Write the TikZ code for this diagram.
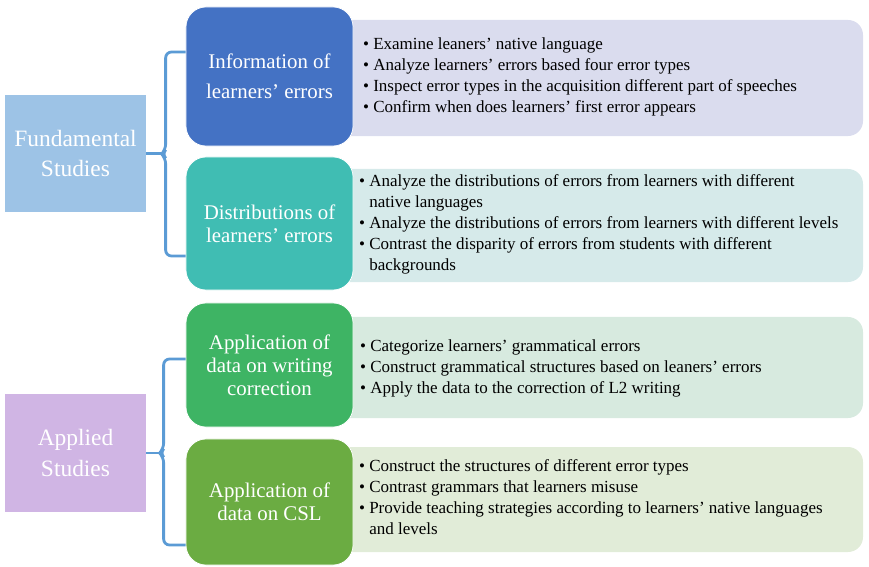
\documentclass[tikz,border=0pt]{standalone}
\usepackage{fontspec}
\setmainfont{Liberation Serif}
\usetikzlibrary{calc}

\definecolor{fundblue}{HTML}{9DC3E6}
\definecolor{applpurple}{HTML}{D0B5E4}
\definecolor{infoblue}{HTML}{4472C4}
\definecolor{distteal}{HTML}{40BDB3}
\definecolor{writegreen}{HTML}{3EB464}
\definecolor{cslgreen}{HTML}{6BAC42}
\definecolor{infopanel}{HTML}{DADCEE}
\definecolor{distpanel}{HTML}{D6EAEA}
\definecolor{writepanel}{HTML}{D7EADF}
\definecolor{cslpanel}{HTML}{E1ECD8}
\definecolor{braceblue}{HTML}{5B9BD5}

\tikzset{
  topic/.style={fill=#1, text=white, minimum width=4.23cm, minimum height=3.52cm,
    align=center, font=\fontsize{20}{26}\selectfont},
  area/.style={fill=#1, draw=white, line width=0.6pt, rounded corners=0.6cm,
    minimum width=5.01cm, text=white, align=center, font=\fontsize{17.8}{19.5}\selectfont},
  panel/.style={fill=#1, rounded corners=0.45cm, minimum width=15.99cm},
  list/.style={anchor=west, inner sep=0pt, font=\fontsize{14.5}{17.9}\selectfont},
  brace/.style={draw=braceblue, line width=2.4pt, rounded corners=5pt},
}

% bullet list with hanging lines
\newcommand*{\Bullets}[1]{\begin{tabular}{@{}l@{\hspace{3.5pt}}l@{}}#1\end{tabular}}

\begin{document}
\begin{tikzpicture}[x=0.03cm, y=-0.03cm]
  \useasboundingbox (0,0) rectangle (869,567);

  % light panels behind the area boxes
  \node [panel=infopanel,  minimum height=3.48cm] (infoP)  at (596.5,78) {};
  \node [panel=distpanel,  minimum height=3.39cm] (distP)  at (596.5,225.5) {};
  \node [panel=writepanel, minimum height=3.03cm] (writeP) at (596.5,367.5) {};
  \node [panel=cslpanel,   minimum height=3.15cm] (cslP)   at (596.5,499.5) {};

  \node [list] (infoL) at (363,77) {\Bullets{
    \textbullet & Examine leaners’ native language \\
    \textbullet & Analyze learners’ errors based four error types \\
    \textbullet & Inspect error types in the acquisition different part of speeches \\
    \textbullet & Confirm when does learners’ first error appears}};
  \node [list] (distL) at (359,224.5) {\Bullets{
    \textbullet & Analyze the distributions of errors from learners with different \\
                & native languages \\
    \textbullet & Analyze the distributions of errors from learners with different levels \\
    \textbullet & Contrast the disparity of errors from students with different \\
                & backgrounds}};
  \node [list] (writeL) at (360,368) {\Bullets{
    \textbullet & Categorize learners’ grammatical errors \\
    \textbullet & Construct grammatical structures based on leaners’ errors \\
    \textbullet & Apply the data to the correction of L2 writing}};
  \node [list] (cslL) at (359,499) {\Bullets{
    \textbullet & Construct the structures of different error types \\
    \textbullet & Contrast grammars that learners misuse \\
    \textbullet & Provide teaching strategies according to learners’ native languages \\
                & and levels}};

  % research areas
  \node [area=infoblue,   minimum height=4.17cm, font=\fontsize{17.8}{26}\selectfont]
    (info)  at (269.5,76.5) {Information of\\learners’ errors};
  \node [area=distteal,   minimum height=3.99cm] (dist)  at (269.5,223.5) {Distributions of\\learners’ errors};
  \node [area=writegreen, minimum height=3.72cm] (write) at (269.5,365) {Application of\\data on writing\\correction};
  \node [area=cslgreen,   minimum height=3.78cm] (csl)   at (269.5,502) {Application of\\data on CSL};

  % the two kinds of studies
  \node [topic=fundblue]   (fund)    at (75.5,153.5) {Fundamental\\Studies};
  \node [topic=applpurple] (applied) at (75.5,453) {Applied\\Studies};

  % braces, each with a small nub where the study box joins
  \draw [brace] ($(info.west)+(0,-24.5)$) -- ++(-20,0) -- ++(0,98) -- ++(-4,4)
    -- ++(4,4) -- ++(0,98) -- ++(20,0);
  \draw [brace] (fund.east) -- ++(16,0);
  \draw [brace] ($(write.west)+(0,-6)$) -- ++(-22,0) -- ++(0,90) -- ++(-4,4)
    -- ++(4,4) -- ++(0,88) -- ++(22,0);
  \draw [brace] (applied.east) -- ++(14,0);
\end{tikzpicture}
\end{document}
